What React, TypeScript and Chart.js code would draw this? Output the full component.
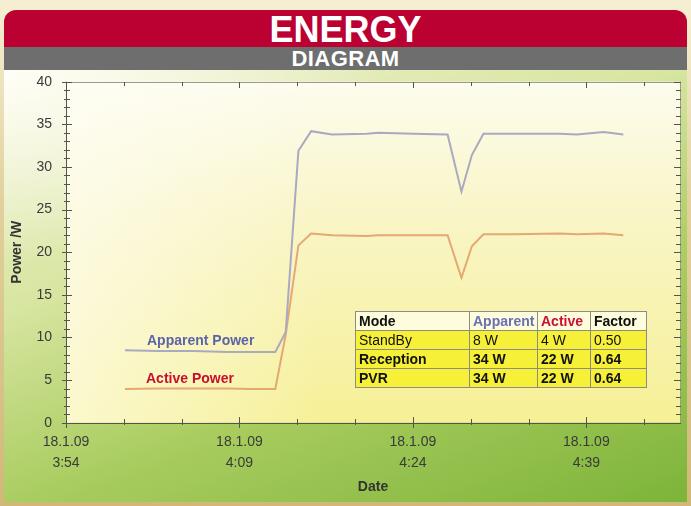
import React, { useEffect, useRef } from "react";
import { Chart, registerables } from "chart.js";

Chart.register(...registerables);

// ---- data (minutes after 18.1.09 3:54) ----
const minutes = [5.1, 8, 11, 14, 16, 18.1, 19.0, 20.1, 21.2, 23.0, 26.0, 27.0, 30.0, 33.0, 34.2, 35.1, 36.1, 38.8, 42.7, 44.2, 46.5, 48.2];
const apparentPower = [8.5, 8.4, 8.4, 8.3, 8.3, 8.3, 10.6, 31.9, 34.2, 33.8, 33.9, 34.0, 33.9, 33.8, 27.1, 31.4, 33.9, 33.9, 33.9, 33.8, 34.1, 33.8];
const activePower = [3.95, 4.0, 4.0, 4.0, 3.95, 3.95, 10.3, 20.8, 22.2, 22.0, 21.9, 22.0, 22.0, 22.0, 17.0, 20.7, 22.1, 22.1, 22.2, 22.1, 22.2, 22.0];

const xTickValues = [0, 15, 30, 45];
const xTickLabels = [
  ["18.1.09", "3:54"],
  ["18.1.09", "4:09"],
  ["18.1.09", "4:24"],
  ["18.1.09", "4:39"],
];
const yTickValues = [0, 5, 10, 15, 20, 25, 30, 35, 40];

const seriesLabels = ["Apparent Power", "Active Power"];

const tableHeader = ["Mode", "Apparent", "Active", "Factor"];
const tableModes = ["StandBy", "Reception", "PVR"];
const tableApparent = ["8 W", "34 W", "34 W"];
const tableActive = ["4 W", "22 W", "22 W"];
const tableFactor = ["0.50", "0.64", "0.64"];
const tableBold = [false, true, true];

const FONT = '"Liberation Sans", Arial, sans-serif';
const APPARENT_COLOR = "#a9a9c2";
const ACTIVE_COLOR = "#e4a874";

const framePlugin = {
  id: "frameTicks",
  beforeDraw(chart: any) {
    const { ctx, chartArea: a } = chart;
    ctx.save();
    const g = ctx.createLinearGradient(0, a.top, 0, a.bottom);
    g.addColorStop(0, "#fdfcee");
    g.addColorStop(0.4, "#f9f5c6");
    g.addColorStop(1, "#f6f096");
    ctx.fillStyle = g;
    ctx.fillRect(a.left, a.top, a.right - a.left, a.bottom - a.top);
    const h = ctx.createLinearGradient(a.left, 0, a.left + 260, 0);
    h.addColorStop(0, "rgba(255,255,250,0.55)");
    h.addColorStop(1, "rgba(255,255,250,0)");
    ctx.fillStyle = h;
    ctx.fillRect(a.left, a.top, a.right - a.left, a.bottom - a.top);
    ctx.restore();
  },
  beforeDatasetsDraw(chart: any) {
    const { ctx, chartArea: a, scales } = chart;
    const xs = scales.x;
    const ys = scales.y;
    ctx.save();
    ctx.lineWidth = 1;
    // frame top/right
    ctx.strokeStyle = "#9a9a90";
    ctx.beginPath();
    ctx.moveTo(a.left, Math.round(a.top) + 0.5);
    ctx.lineTo(a.right, Math.round(a.top) + 0.5);
    ctx.moveTo(Math.round(a.right) + 0.5, a.top);
    ctx.lineTo(Math.round(a.right) + 0.5, a.bottom);
    ctx.stroke();
    // axes left/bottom
    ctx.strokeStyle = "#555550";
    ctx.beginPath();
    ctx.moveTo(Math.round(a.left) + 0.5, a.top);
    ctx.lineTo(Math.round(a.left) + 0.5, a.bottom);
    ctx.moveTo(a.left, Math.round(a.bottom) + 0.5);
    ctx.lineTo(a.right, Math.round(a.bottom) + 0.5);
    ctx.stroke();
    // y ticks
    ctx.beginPath();
    for (let v = ys.min; v <= ys.max; v += 1) {
      const py = Math.round(ys.getPixelForValue(v)) + 0.5;
      const major = v % 5 === 0;
      const lx = Math.round(a.left);
      ctx.moveTo(lx - (major ? 4 : 2), py);
      ctx.lineTo(lx + (major ? 6 : 4), py);
      const rx = Math.round(a.right);
      ctx.moveTo(rx - (major ? 6 : 4), py);
      ctx.lineTo(rx + 1, py);
    }
    // x ticks
    for (let v = xs.min; v <= xs.max; v += 5) {
      const px = Math.round(xs.getPixelForValue(v)) + 0.5;
      const major = v % 15 === 0;
      const by = Math.round(a.bottom);
      ctx.moveTo(px, by - (major ? 6 : 4));
      ctx.lineTo(px, by + (major ? 5 : 2));
      const ty = Math.round(a.top);
      ctx.moveTo(px, ty);
      ctx.lineTo(px, ty + (major ? 6 : 4));
    }
    ctx.stroke();
    ctx.restore();
  },
};

function EnergyChart() {
  const ref = useRef<HTMLCanvasElement | null>(null);
  useEffect(() => {
    if (!ref.current) return;
    const chart = new Chart(ref.current, {
      type: "line",
      data: {
        datasets: [
          {
            label: seriesLabels[0],
            data: minutes.map((m, i) => ({ x: m, y: apparentPower[i] })),
            borderColor: APPARENT_COLOR,
            borderWidth: 2,
            pointRadius: 0,
            tension: 0,
            fill: false,
          },
          {
            label: seriesLabels[1],
            data: minutes.map((m, i) => ({ x: m, y: activePower[i] })),
            borderColor: ACTIVE_COLOR,
            borderWidth: 2,
            pointRadius: 0,
            tension: 0,
            fill: false,
          },
        ],
      },
      options: {
        animation: false,
        responsive: false,
        devicePixelRatio: 1,
        layout: { padding: { top: 11.7, right: 11, left: 0, bottom: 0 } },
        plugins: { legend: { display: false }, tooltip: { enabled: false } },
        scales: {
          x: {
            type: "linear",
            min: 0,
            max: 53.1,
            grid: { display: false, drawTicks: true, tickLength: 9 },
            border: { display: false },
            afterBuildTicks: (s: any) => {
              s.ticks = xTickValues.map((v) => ({ value: v }));
            },
            afterFit: (s: any) => {
              s.height = 83.3;
            },
            ticks: {
              autoSkip: false,
              maxRotation: 0,
              padding: 0,
              color: "#3a3a3a",
              font: { family: FONT, size: 14, lineHeight: 1.5 },
              callback: (v: any) => {
                const i = xTickValues.indexOf(Number(v));
                return i >= 0 ? xTickLabels[i] : "";
              },
            },
            title: {
              display: true,
              text: "Date",
              color: "#333333",
              font: { family: FONT, size: 14, weight: "bold" },
              padding: { top: 0, bottom: 10 },
            },
          },
          y: {
            type: "linear",
            min: 0,
            max: 40,
            grid: { display: false, drawTicks: true, tickLength: 14 },
            border: { display: false },
            afterBuildTicks: (s: any) => {
              s.ticks = yTickValues.map((v) => ({ value: v }));
            },
            afterFit: (s: any) => {
              s.width = 66;
            },
            ticks: {
              autoSkip: false,
              padding: 0,
              color: "#3a3a3a",
              font: { family: FONT, size: 14 },
            },
            title: {
              display: true,
              text: "Power /W",
              color: "#333333",
              font: { family: FONT, size: 14, weight: "bold" },
              padding: { top: 9, bottom: 0 },
            },
          },
        },
      },
      plugins: [framePlugin],
    } as any);
    return () => chart.destroy();
  }, []);
  return <canvas ref={ref} width={691} height={436} style={{ width: 691, height: 436, display: "block" }} />;
}

export default function App() {
  const cell: React.CSSProperties = {
    border: "1px solid #8c8c84",
    padding: "0 0 0 3px",
    height: 18,
    lineHeight: "18px",
    fontSize: 14,
    whiteSpace: "nowrap",
    textAlign: "left",
  };
  const colW = [114, 68, 53, 56];
  return (
    <div
      style={{
        position: "fixed",
        left: 0,
        top: 0,
        width: 691,
        height: 506,
        overflow: "hidden",
        fontFamily: FONT,
        background: "linear-gradient(to bottom, #f6efd3 0%, #e2d19e 40%, #d0b878 100%)",
      }}
    >
      <div
        style={{
          position: "absolute",
          left: 4,
          top: 10,
          width: 683,
          height: 492,
          borderRadius: "12px 12px 0 0",
          overflow: "hidden",
        }}
      >
        <div
          style={{
            height: 37,
            background: "#bb0032",
            color: "#ffffff",
            fontWeight: "bold",
            fontSize: 36,
            lineHeight: "37px",
            textAlign: "center",
            paddingTop: 1,
            boxSizing: "border-box",
          }}
        >
          ENERGY
        </div>
        <div
          style={{
            height: 23,
            background: "#6e6e6e",
            color: "#ffffff",
            fontWeight: "bold",
            fontSize: 22,
            lineHeight: "23px",
            textAlign: "center",
            letterSpacing: 0.4,
          }}
        >
          DIAGRAM
        </div>
        <div
          style={{
            height: 432,
            background:
              "radial-gradient(ellipse 55% 45% at 0% 0%, rgba(255,255,248,0.95) 0%, rgba(255,255,248,0) 100%), linear-gradient(160deg, #f2f1d2 0%, #d8e6a2 35%, #a8cc5e 65%, #7db43a 100%)",
          }}
        />
      </div>
      <div style={{ position: "absolute", left: 0, top: 70, width: 691, height: 436 }}>
        <EnergyChart />
      </div>
      <div
        style={{
          position: "absolute",
          left: 147,
          top: 331,
          fontSize: 14,
          fontWeight: "bold",
          color: "#5c64a8",
          lineHeight: "18px",
        }}
      >
        {seriesLabels[0]}
      </div>
      <div
        style={{
          position: "absolute",
          left: 146,
          top: 369,
          fontSize: 14,
          fontWeight: "bold",
          color: "#c8102e",
          lineHeight: "18px",
        }}
      >
        {seriesLabels[1]}
      </div>
      <table
        style={{
          position: "absolute",
          left: 355,
          top: 311,
          borderCollapse: "collapse",
          tableLayout: "fixed",
          width: 291,
          color: "#111111",
        }}
      >
        <colgroup>
          {colW.map((w, i) => (
            <col key={i} style={{ width: w }} />
          ))}
        </colgroup>
        <tbody>
          <tr style={{ background: "rgba(255,255,236,0.75)" }}>
            {tableHeader.map((h, i) => (
              <td
                key={i}
                style={{
                  ...cell,
                  fontWeight: "bold",
                  color: i === 1 ? "#6a70b4" : i === 2 ? "#cc0f35" : "#111111",
                }}
              >
                {h}
              </td>
            ))}
          </tr>
          {tableModes.map((m, r) => (
            <tr key={m} style={{ background: "#f6f138" }}>
              {[m, tableApparent[r], tableActive[r], tableFactor[r]].map((t, i) => (
                <td key={i} style={{ ...cell, fontWeight: tableBold[r] ? "bold" : "normal" }}>
                  {t}
                </td>
              ))}
            </tr>
          ))}
        </tbody>
      </table>
    </div>
  );
}
